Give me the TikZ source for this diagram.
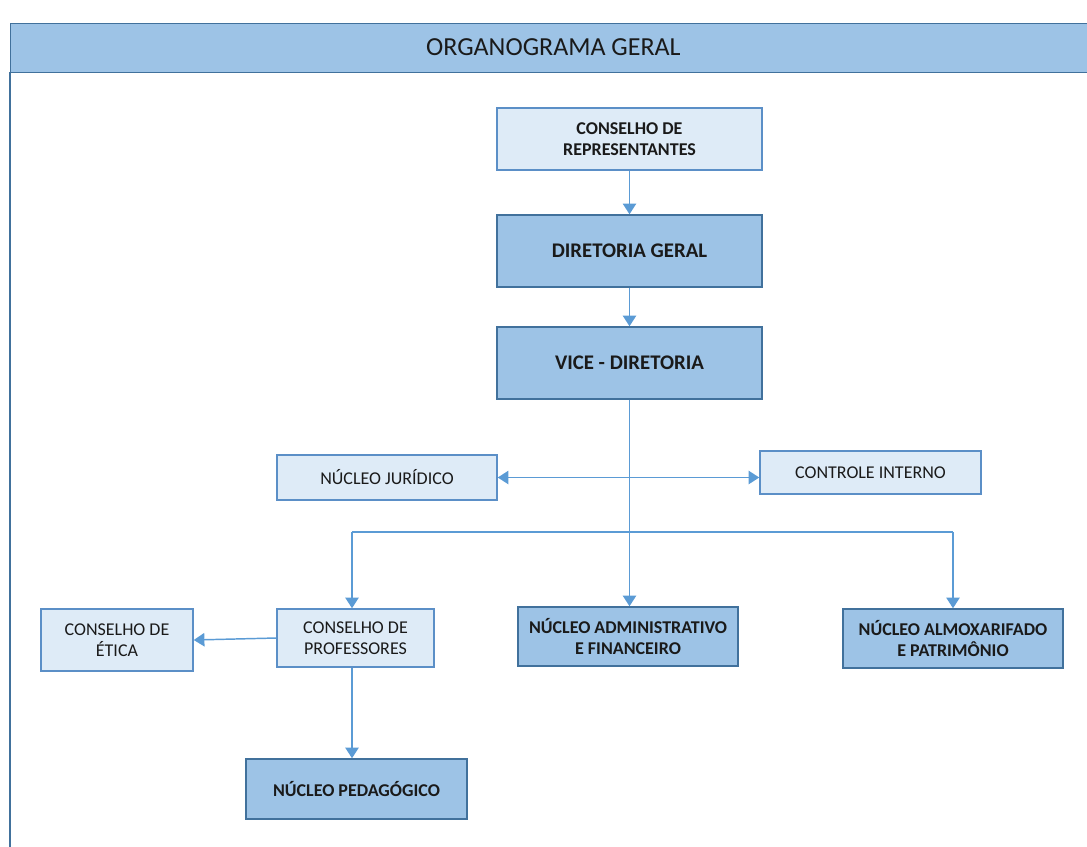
\documentclass[tikz,border=0pt]{standalone}
\usepackage{fontspec}
\setmainfont{Carlito}
\usetikzlibrary{arrows.meta}
\definecolor{hdrfill}{HTML}{9DC3E6}
\definecolor{hdrline}{HTML}{41719C}
\definecolor{lightfill}{HTML}{DEEBF7}
\definecolor{boxline}{HTML}{5B8FC7}
\definecolor{wire}{HTML}{5B9BD5}
\definecolor{ink}{HTML}{1A1A1A}
\tikzset{
  unit/.style={draw=boxline, line width=1.1pt, text=ink, align=center,
    inner sep=2pt, font=\fontsize{13.5}{15.5}\selectfont},
  lightunit/.style={unit, fill=lightfill},
  darkunit/.style={unit, fill=hdrfill, draw=hdrline},
  boldtext/.style={font=\bfseries\fontsize{13.5}{15.5}\selectfont},
  link/.style={draw=wire, line width=1.1pt,
    -{Triangle[width=10pt,length=8pt]}},
}
\begin{document}
\begin{tikzpicture}[x=0.75pt,y=-0.75pt]
\useasboundingbox (0,0) rectangle (1087,846);
% outer frame and title bar
\draw[hdrline, line width=1.1pt] (10,72) -- (10,860);
\node[draw=hdrline, fill=hdrfill, line width=1.1pt, anchor=north west,
  minimum width=1090*0.75pt, minimum height=49*0.75pt, inner sep=0pt,
  text=ink, font=\fontsize{19.5}{22}\selectfont] (title) at (10,23)
  {\hspace*{-3.5pt}\raisebox{2pt}{ORGANOGRAMA GERAL}};
% units
\node[lightunit, boldtext,
  minimum width=265*0.75pt, minimum height=62*0.75pt] (rep) at (629.5,139)
  {CONSELHO DE\\REPRESENTANTES};
\node[darkunit, font=\bfseries\fontsize{15.6}{18}\selectfont,
  minimum width=265*0.75pt, minimum height=72*0.75pt] (dir) at (629.5,251)
  {DIRETORIA GERAL};
\node[darkunit, font=\bfseries\fontsize{15.6}{18}\selectfont,
  minimum width=265*0.75pt, minimum height=72*0.75pt] (vice) at (629.5,363)
  {VICE - DIRETORIA};
\node[lightunit, minimum width=220*0.75pt, minimum height=45*0.75pt]
  (jur) at (387,477.5) {NÚCLEO JURÍDICO};
\node[lightunit, minimum width=221*0.75pt, minimum height=43*0.75pt]
  (ctrl) at (870.5,472.5) {CONTROLE INTERNO};
\node[lightunit, minimum width=152*0.75pt, minimum height=62*0.75pt]
  (etica) at (117,640) {CONSELHO DE\\ÉTICA};
\node[lightunit, minimum width=157*0.75pt, minimum height=58*0.75pt]
  (prof) at (355.5,638) {CONSELHO DE\\PROFESSORES};
\node[darkunit, boldtext,
  minimum width=220*0.75pt, minimum height=59*0.75pt]
  (adm) at (628,636.5) {NÚCLEO ADMINISTRATIVO\\E FINANCEIRO};
\node[darkunit, boldtext,
  minimum width=220*0.75pt, minimum height=59*0.75pt]
  (alm) at (953,638.5) {NÚCLEO ALMOXARIFADO\\E PATRIMÔNIO};
\node[darkunit, boldtext,
  minimum width=221*0.75pt, minimum height=60*0.75pt]
  (ped) at (356.5,789) {NÚCLEO PEDAGÓGICO};
% junction points of the lower distribution line
\coordinate (jl) at (352,532);
\coordinate (jr) at (953,532);
% connectors
\draw[link] (rep.south) -- (dir.north);
\draw[link] (dir.south) -- (vice.north);
\draw[link] (vice.south) -- (vice.south |- adm.north);
\draw[link, {Triangle[width=10pt,length=8pt]}-{Triangle[width=10pt,length=8pt]}]
  (jur.east) -- (jur.east -| ctrl.west);
\draw[draw=wire, line width=1.1pt] (jl) -- (jr);
\draw[link] (jl) -- (jl |- prof.north);
\draw[link] (jr) -- (jr |- alm.north);
\draw[link] (prof.west) -- (etica.east);
\draw[link] (jl |- prof.south) -- (jl |- ped.north);
\end{tikzpicture}
\end{document}
